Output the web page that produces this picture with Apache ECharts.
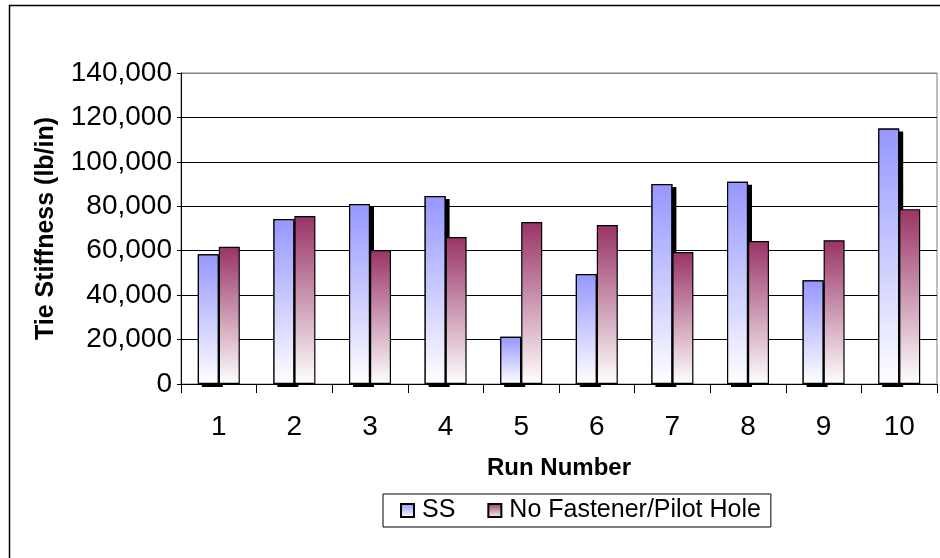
<!DOCTYPE html>
<html>
<head>
<meta charset="utf-8">
<script src="https://cdn.jsdelivr.net/npm/echarts@6/dist/echarts.min.js"></script>
<style>html,body{margin:0;padding:0;background:#fff}#c{width:940px;height:558px}</style>
</head>
<body>
<div id="c"></div>
<script>
const categories = ['1','2','3','4','5','6','7','8','9','10'];
const ssValues = [58400, 74300, 81000, 84600, 21300, 49500, 90000, 91000, 46700, 115000];
const nfValues = [61800, 75600, 60300, 66200, 72900, 71600, 59400, 64400, 64700, 78700];
const seriesNames = ['SS', 'No Fastener/Pilot Hole'];
const yTicks = [0, 20000, 40000, 60000, 80000, 100000, 120000, 140000];

const FONT = '"Liberation Sans", Arial, sans-serif';
const chart = echarts.init(document.getElementById('c'), null, {renderer: 'canvas'});

function grad(top) {
  return new echarts.graphic.LinearGradient(0, 0, 0, 1, [
    {offset: 0, color: top},
    {offset: 1, color: '#ffffff'}
  ]);
}
const BW = 21;

chart.setOption({
  animation: false,
  backgroundColor: '#ffffff',
  textStyle: {fontFamily: FONT},
  graphic: [{
    type: 'rect',
    shape: {x: 9.5, y: 5.5, width: 960, height: 600},
    style: {fill: null, stroke: '#000', lineWidth: 1.5},
    silent: true
  }],
  grid: {
    left: 181, top: 73, right: 3, bottom: 174,
    show: true, borderColor: '#808080', borderWidth: 1, backgroundColor: 'transparent'
  },
  legend: {
    left: 383, top: 494,
    padding: [4, 10, 4, 17],
    itemGap: 32,
    itemWidth: 13, itemHeight: 13,
    borderColor: '#000', borderWidth: 1,
    textStyle: {fontFamily: FONT, fontSize: 25, color: '#000', padding: [0, 0, 0, 3]},
    data: seriesNames.map(n => ({name: n, icon: 'rect'}))
  },
  xAxis: [{
    type: 'category',
    data: categories,
    name: 'Run Number',
    nameLocation: 'middle',
    nameGap: 72,
    nameTextStyle: {fontFamily: FONT, fontSize: 24, fontWeight: 'bold', color: '#000'},
    axisLine: {lineStyle: {color: '#000', width: 1}},
    axisTick: {show: true, length: 9, lineStyle: {color: '#000'}},
    axisLabel: {margin: 29, fontFamily: FONT, fontSize: 28, color: '#000'}
  }, {
    type: 'category',
    data: categories,
    show: false
  }],
  yAxis: {
    type: 'value',
    min: 0, max: 140000, interval: 20000,
    name: 'Tie Stiffness (lb/in)',
    nameLocation: 'middle',
    nameGap: 122,
    nameRotate: 90,
    nameTextStyle: {fontFamily: FONT, fontSize: 25, fontWeight: 'bold', color: '#000'},
    axisLine: {show: true, lineStyle: {color: '#000', width: 1}},
    axisTick: {show: true, length: 4, lineStyle: {color: '#000'}},
    axisLabel: {
      margin: 9, fontFamily: FONT, fontSize: 28, color: '#000',
      formatter: v => v.toLocaleString('en-US')
    },
    splitLine: {show: true, lineStyle: {color: yTicks.map((t, i) => i === yTicks.length - 1 ? '#808080' : '#000'), width: 1}}
  },
  series: [
    {
      name: seriesNames[0],
      type: 'bar',
      xAxisIndex: 0,
      z: 3,
      data: ssValues,
      barWidth: BW,
      barGap: '0%',
      itemStyle: {color: grad('#9696ff'), borderColor: '#000', borderWidth: 1.2}
    },
    {
      name: seriesNames[1],
      type: 'bar',
      xAxisIndex: 0,
      z: 3,
      data: nfValues,
      barWidth: BW,
      barGap: '0%',
      itemStyle: {color: grad('#993366'), borderColor: '#000', borderWidth: 1.2}
    },
    {
      // shadow caster drawn behind the bars
      name: seriesNames[0],
      type: 'bar',
      xAxisIndex: 1,
      z: 1,
      data: ssValues,
      barWidth: BW,
      barGap: '0%',
      silent: true,
      itemStyle: {color: '#000', borderWidth: 0, shadowColor: '#000', shadowOffsetX: 4, shadowOffsetY: 3, shadowBlur: 0}
    },
    {
      name: '_pad',
      type: 'bar',
      xAxisIndex: 1,
      z: 1,
      data: categories.map(() => '-'),
      barWidth: BW,
      barGap: '0%',
      silent: true
    }
  ]
});
</script>
</body>
</html>
